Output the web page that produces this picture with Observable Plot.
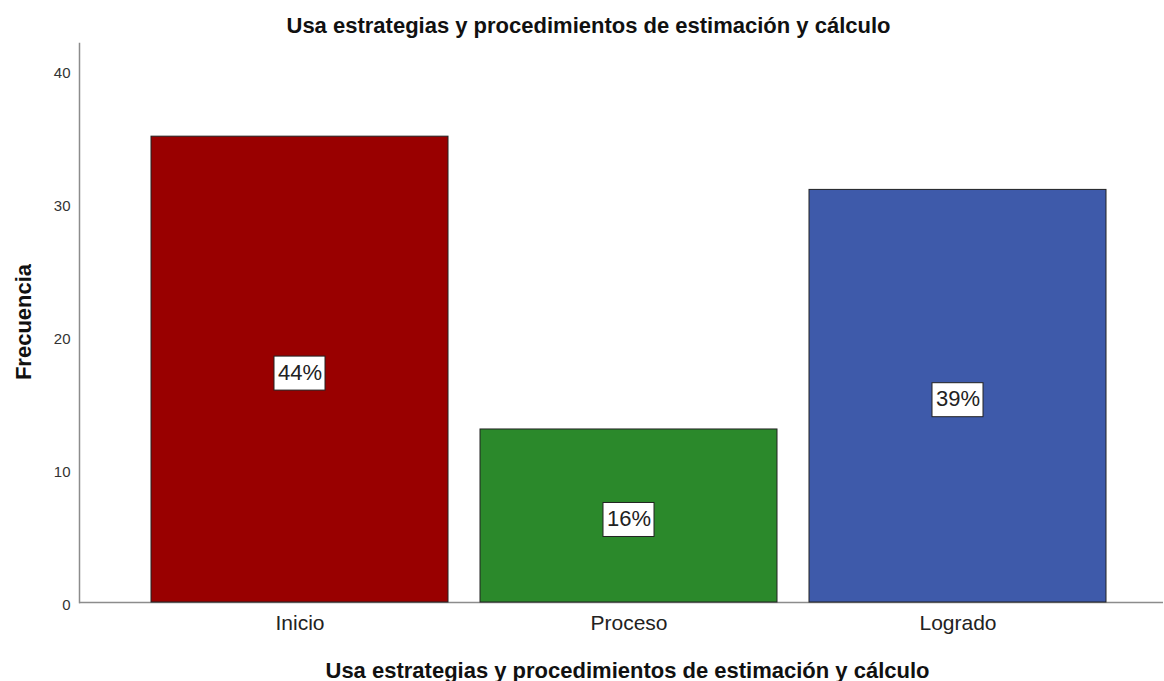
<!DOCTYPE html>
<html>
<head>
<meta charset="utf-8">
<script src="https://cdn.jsdelivr.net/npm/d3@7"></script>
<script src="https://cdn.jsdelivr.net/npm/@observablehq/plot@0.6"></script>
<style>
  html, body { margin: 0; padding: 0; background: #fff; }
  #chart svg { display: block; }
</style>
</head>
<body>
<div id="chart"></div>
<script>
const categories = ["Inicio", "Proceso", "Logrado"];
const frequencies = [35, 13, 31];
const percentLabels = ["44%", "16%", "39%"];
const barColors = ["#990000", "#2b892b", "#3e5aaa"];
const yTicks = [0, 10, 20, 30, 40];
const titleText = "Usa estrategias y procedimientos de estimación y cálculo";
const xAxisLabel = "Usa estrategias y procedimientos de estimación y cálculo";
const yAxisLabel = "Frecuencia";

const data = categories.map((c, i) => ({cat: c, value: frequencies[i], pct: percentLabels[i]}));
const FONT = "'Liberation Sans', Arial, sans-serif";

const chart = Plot.plot({
  width: 1164,
  height: 681,
  marginLeft: 79,
  marginRight: 1,
  marginTop: 43,
  marginBottom: 79,
  style: {fontFamily: FONT, background: "#fff", overflow: "visible"},
  x: {domain: categories, padding: 0.097, paddingOuter: 0.194, align: 0.557, label: null},
  y: {domain: [0, 42], label: null},
  color: {domain: categories, range: barColors},
  marks: [
    Plot.frame({anchor: "left", stroke: "#8c8c8c", strokeWidth: 1.5}),
    Plot.ruleY([0], {stroke: "#8c8c8c", strokeWidth: 1.5}),
    Plot.barY(data, {x: "cat", y: "value", fill: "cat", stroke: "#222", strokeWidth: 1}),
    Plot.rect(data, {
      x: "cat", y1: d => d.value / 2, y2: d => d.value / 2,
      insetLeft: 123, insetRight: 123, insetTop: -13, insetBottom: -21,
      fill: "#fff", stroke: "#222", strokeWidth: 1
    }),
    Plot.text(data, {
      x: "cat", y: d => d.value / 2, text: "pct", dy: 3,
      fontSize: 22, fill: "#222", lineAnchor: "middle"
    }),
    Plot.axisY({ticks: yTicks, tickSize: 0, tickPadding: 9, fontSize: 15, dy: 3, color: "#333", label: null}),
    Plot.axisX({tickSize: 0, tickPadding: 13, fontSize: 21, color: "#222", label: null}),
    Plot.text([titleText], {
      frameAnchor: "top", text: d => d, dy: -18, dx: -33,
      fontSize: 22, fontWeight: "bold", fill: "#111", lineAnchor: "middle"
    }),
    Plot.text([xAxisLabel], {
      frameAnchor: "bottom", text: d => d, dy: 68, dx: 6,
      fontSize: 22, fontWeight: "bold", fill: "#111", lineAnchor: "middle"
    }),
    Plot.text([yAxisLabel], {
      frameAnchor: "left", text: d => d, dx: -56, dy: -1, rotate: -90,
      textAnchor: "middle",
      fontSize: 22, fontWeight: "bold", fill: "#111", lineAnchor: "middle"
    })
  ]
});
document.getElementById("chart").appendChild(chart);
</script>
</body>
</html>
